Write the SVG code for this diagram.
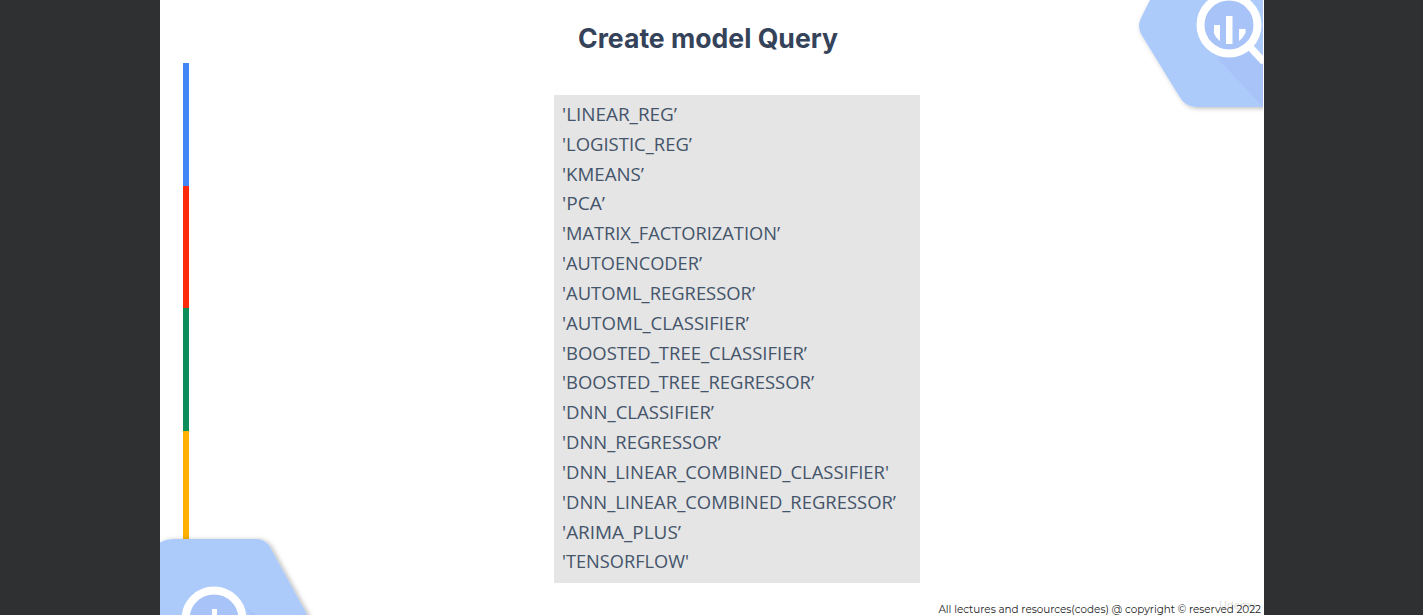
<svg xmlns="http://www.w3.org/2000/svg" width="1423" height="615" viewBox="0 0 1423 615">
<defs>
<style>
.li{font-family:"Open Sans","Noto Sans","Liberation Sans",sans-serif;font-size:18.4px;fill:#44546a}
.hex{fill:#accbfb}
.dk{fill:#a8c3f8}
</style>
<filter id="sh" x="-20%" y="-20%" width="140%" height="140%"><feDropShadow dx="2" dy="1" stdDeviation="2.5" flood-color="#000" flood-opacity=".3"/></filter>
<clipPath id="slide"><rect x="160" y="0" width="1104" height="615"/></clipPath>
<clipPath id="tr"><rect x="1100" y="0" width="163" height="130"/></clipPath>
</defs>
<rect width="1423" height="615" fill="#2f3032"/>
<rect x="160" y="0" width="1104" height="615" fill="#fff"/>
<g id="title"><text x="708" y="48" text-anchor="middle" font-family="Inter,Roboto,sans-serif" font-weight="700" font-size="27" textLength="260" lengthAdjust="spacingAndGlyphs" fill="#35435a">Create model Query</text></g>
<g id="stripe">
<rect x="183" y="63" width="6" height="123" fill="#4285f4"/>
<rect x="183" y="186" width="6" height="122" fill="#ff2a0a"/>
<rect x="183" y="308" width="6" height="123" fill="#0b8f5a"/>
<rect x="183" y="431" width="6" height="108" fill="#ffb000"/>
</g>
<g id="hex-top" clip-path="url(#tr)">
<path class="hex" filter="url(#sh)" d="M1150 0L1141 18Q1137 26 1141 34L1179 96Q1185 107 1196 107L1290 107L1290 0Z"/>
<path class="dk" d="M1217 58L1263 107V63L1250 50Z"/>
<circle cx="1229" cy="25" r="28.500" class="dk" stroke="#fff" stroke-width="8"/>
<path d="M1250 47L1264 62" stroke="#fff" stroke-width="7" fill="none"/>
<path d="M1214 25H1220V41Q1215 37 1214 33Z" fill="#fff"/>
<rect x="1226" y="16" width="6.500" height="28" fill="#fff"/>
<path d="M1239 29H1245.500V33Q1243 38 1239 41Z" fill="#fff"/>
</g>
<g id="list">
<rect x="554" y="95" width="366" height="488" fill="#e5e5e5"/>
<text class="li" x="562" y="120.800" textLength="115" lengthAdjust="spacingAndGlyphs">'LINEAR_REG’</text>
<text class="li" x="562" y="150.800" textLength="130" lengthAdjust="spacingAndGlyphs">'LOGISTIC_REG’</text>
<text class="li" x="562" y="180.800" textLength="82" lengthAdjust="spacingAndGlyphs">'KMEANS’</text>
<text class="li" x="562" y="209.800" textLength="43" lengthAdjust="spacingAndGlyphs">'PCA’</text>
<text class="li" x="562" y="239.800" textLength="218" lengthAdjust="spacingAndGlyphs">'MATRIX_FACTORIZATION’</text>
<text class="li" x="562" y="269.800" textLength="140" lengthAdjust="spacingAndGlyphs">'AUTOENCODER’</text>
<text class="li" x="562" y="299.800" textLength="193" lengthAdjust="spacingAndGlyphs">'AUTOML_REGRESSOR’</text>
<text class="li" x="562" y="329.800" textLength="187" lengthAdjust="spacingAndGlyphs">'AUTOML_CLASSIFIER’</text>
<text class="li" x="562" y="359.800" textLength="245" lengthAdjust="spacingAndGlyphs">'BOOSTED_TREE_CLASSIFIER’</text>
<text class="li" x="562" y="388.800" textLength="252" lengthAdjust="spacingAndGlyphs">'BOOSTED_TREE_REGRESSOR’</text>
<text class="li" x="562" y="418.800" textLength="152" lengthAdjust="spacingAndGlyphs">'DNN_CLASSIFIER’</text>
<text class="li" x="562" y="448.800" textLength="159" lengthAdjust="spacingAndGlyphs">'DNN_REGRESSOR’</text>
<text class="li" x="562" y="478.800" textLength="327" lengthAdjust="spacingAndGlyphs">'DNN_LINEAR_COMBINED_CLASSIFIER'</text>
<text class="li" x="562" y="508.800" textLength="334" lengthAdjust="spacingAndGlyphs">'DNN_LINEAR_COMBINED_REGRESSOR’</text>
<text class="li" x="562" y="538.800" textLength="119" lengthAdjust="spacingAndGlyphs">'ARIMA_PLUS’</text>
<text class="li" x="562" y="567.800" textLength="127" lengthAdjust="spacingAndGlyphs">'TENSORFLOW'</text>
</g>
<g id="hex-bottom" clip-path="url(#slide)">
<path class="hex" filter="url(#sh)" d="M150 620V556Q155 539 175 539H257Q265 539 270 547L310 620Z"/>
<path class="dk" d="M246 607L256 615H250Z"/>
<circle cx="214" cy="619" r="28.500" class="dk" stroke="#fff" stroke-width="8"/>
<rect x="212" y="609" width="5" height="6" fill="#fff"/>
</g>
<g id="footer">
<text x="1219" y="609" font-family="'Open Sans',sans-serif" font-size="11" fill="#dedede">Udemy</text>
<text x="1261" y="613" text-anchor="end" font-family="Montserrat,Inter,'Noto Sans',sans-serif" font-size="10.400" fill="#222">All lectures and resources(codes) @ copyright © reserved 2022</text></g>
</svg>
